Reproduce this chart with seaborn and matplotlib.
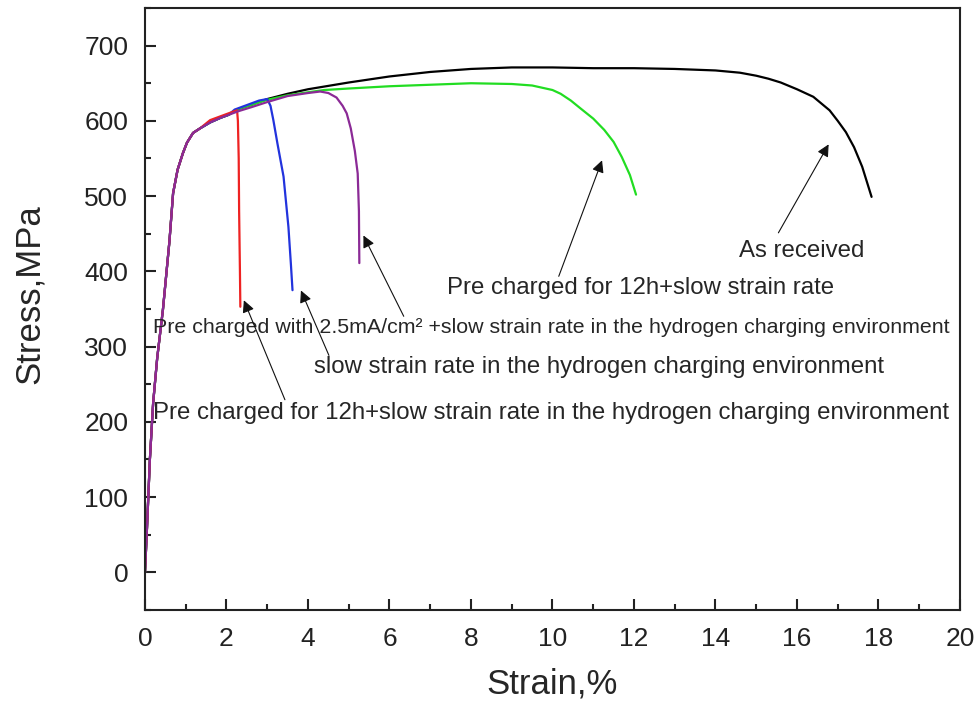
import numpy as np
import pandas as pd
import matplotlib
matplotlib.use("Agg")
import matplotlib.pyplot as plt
import seaborn as sns

# ---------------- data ----------------
elastic_strain = [0.0, 0.05, 0.12, 0.20, 0.30, 0.44, 0.60, 0.69, 0.80, 0.93, 1.03, 1.18, 1.35, 1.60, 1.85, 2.05]
elastic_stress = [0, 60, 150, 225, 285, 349, 440, 504, 535, 557, 571, 584, 590, 598, 604, 608]

asrec_strain = [2.3, 2.6, 3.0, 3.5, 4.0, 5.0, 6.0, 7.0, 8.0, 9.0, 10.0, 11.0, 12.0, 13.0, 14.0, 14.6,
                15.0, 15.3, 15.6, 16.0, 16.2, 16.4, 16.6, 16.8, 17.0, 17.2, 17.4, 17.6, 17.83]
asrec_stress = [616, 621, 629, 636, 642, 651, 659, 665, 669, 671, 671, 670, 670, 669, 667, 664,
                660, 656, 651, 642, 637, 632, 623, 614, 600, 585, 565, 539, 499]

pc12_strain = [2.3, 2.6, 3.0, 3.5, 4.0, 4.4, 5.0, 6.0, 7.0, 8.0, 9.0, 9.5, 9.75, 10.0, 10.2, 10.45,
               10.7, 11.0, 11.27, 11.5, 11.7, 11.9, 12.05]
pc12_stress = [616, 621, 628, 634, 638, 641, 643, 646, 648, 650, 649, 647, 644, 641, 636, 627,
               616, 603, 588, 572, 552, 528, 502]

h_strain = [2.2, 2.5, 2.8, 3.0, 3.08, 3.15, 3.25, 3.40, 3.52, 3.58, 3.62]
h_stress = [615, 621, 627, 629, 620, 601, 570, 526, 459, 410, 375]

pc12h_strain = [1.6, 1.9, 2.1, 2.26, 2.28, 2.30, 2.31, 2.33, 2.34]
pc12h_stress = [601, 607, 611, 614, 600, 550, 480, 400, 353]

pc25_strain = [2.3, 2.6, 3.0, 3.5, 4.0, 4.3, 4.5, 4.7, 4.85, 4.95, 5.05, 5.15, 5.22, 5.25, 5.26]
pc25_stress = [613, 618, 625, 633, 637, 639, 637, 631, 620, 610, 590, 560, 530, 480, 411]

labels = ["As received",
          "Pre charged for 12h+slow strain rate",
          "slow strain rate in the hydrogen charging environment",
          "Pre charged for 12h+slow strain rate in the hydrogen charging environment",
          "Pre charged with 2.5mA/cm\u00b2 +slow strain rate in the hydrogen charging environment"]
colors = ["#000000", "#22dd22", "#2233dd", "#ee2222", "#8b2a96"]

series = [(asrec_strain, asrec_stress), (pc12_strain, pc12_stress), (h_strain, h_stress),
          (pc12h_strain, pc12h_stress), (pc25_strain, pc25_stress)]

rows = []
for lab, (xs, ys) in zip(labels, series):
    for x, y in zip(elastic_strain, elastic_stress):
        if x < xs[0]:
            rows.append((lab, x, y))
    for x, y in zip(xs, ys):
        rows.append((lab, x, y))
df = pd.DataFrame(rows, columns=["curve", "strain", "stress"])

# ---------------- plot ----------------
sns.set_style("ticks")
plt.rcParams["font.family"] = ["Liberation Sans", "DejaVu Sans"]

fig = plt.figure(figsize=(9.77, 7.07), dpi=100)
ax = fig.add_axes([0.1484, 0.1372, 0.8342, 0.8515])

sns.lineplot(data=df, x="strain", y="stress", hue="curve", hue_order=labels,
             palette=dict(zip(labels, colors)), sort=False, estimator=None,
             units="curve", lw=1.6, legend=False, ax=ax)

ax.set_xlim(0, 20)
ax.set_ylim(-50, 750)
ax.set_xticks(np.arange(0, 21, 2))
ax.set_xticks(np.arange(0, 21, 1), minor=True)
ax.set_yticks(np.arange(0, 701, 100))
ax.set_yticks(np.arange(-50, 751, 50), minor=True)
ax.tick_params(which="both", direction="in", top=False, right=False, width=1.5, colors="#222222")
ax.tick_params(which="major", length=8, labelsize=19, pad=12)
ax.tick_params(which="minor", length=4)
for s in ax.spines.values():
    s.set_linewidth(1.5)
    s.set_color("#222222")

ax.set_xlabel("Strain,%", fontsize=25, labelpad=12)
ax.set_ylabel("Stress,MPa", fontsize=25, labelpad=28)
ax.yaxis.label.set_y(0.525)

# ---------------- annotations ----------------
fs = 17.3
ann = dict(arrowstyle="-|>", color="#111111", lw=0.8, mutation_scale=18)
ax.text(16.12, 427, labels[0], fontsize=fs, ha="center", va="center")
ax.annotate("", xy=(16.81, 572), xytext=(15.51, 448), arrowprops=ann)

ax.text(12.17, 378, labels[1], fontsize=fs, ha="center", va="center")
ax.annotate("", xy=(11.24, 551), xytext=(10.13, 390), arrowprops=ann)

ax.text(0.2, 326, labels[4], fontsize=15.4, ha="left", va="center")
ax.annotate("", xy=(5.33, 451), xytext=(6.38, 337), arrowprops=ann)

ax.text(11.14, 273, labels[2], fontsize=fs, ha="center", va="center")
ax.annotate("", xy=(3.80, 378), xytext=(4.54, 285), arrowprops=ann)

ax.text(0.2, 212, labels[3], fontsize=fs, ha="left", va="center")
ax.annotate("", xy=(2.40, 365), xytext=(3.46, 226), arrowprops=ann)

fig.savefig("out.png", dpi=100)
